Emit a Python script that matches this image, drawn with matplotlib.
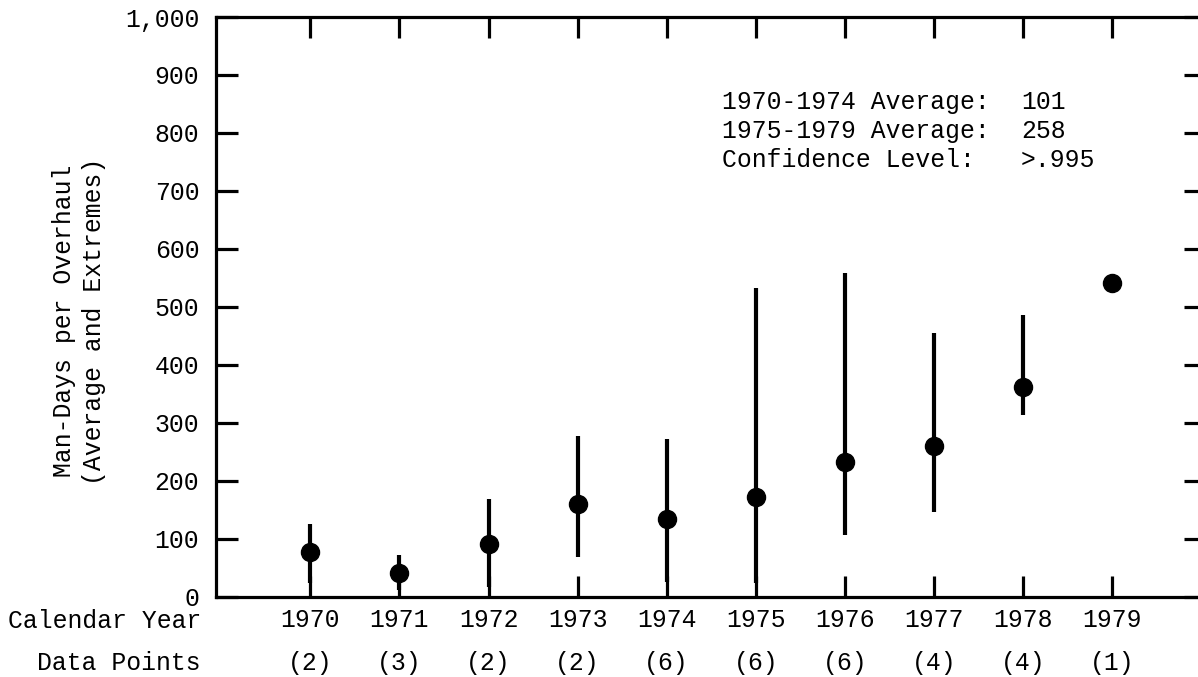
import matplotlib
matplotlib.use("Agg")
import matplotlib.pyplot as plt
from matplotlib import transforms

plt.rcParams['font.family'] = ['Liberation Mono', 'DejaVu Sans Mono']

# Overhaul effort per calendar year: average with low/high extremes
years = [1970, 1971, 1972, 1973, 1974, 1975, 1976, 1977, 1978, 1979]
means = [78, 41, 91, 160, 134, 172, 233, 260, 362, 541]
lows = [25, 12, 17, 69, 26, 24, 107, 147, 314, 541]
highs = [126, 72, 169, 278, 272, 532, 558, 455, 486, 541]
counts = [2, 3, 2, 2, 6, 6, 6, 4, 4, 1]
yticks = [0, 100, 200, 300, 400, 500, 600, 700, 800, 900, 1000]
ytick_labels = ['0', '100', '200', '300', '400', '500', '600', '700', '800', '900', '1,000']
summary_labels = ['1970-1974 Average:', '1975-1979 Average:', 'Confidence Level:']
summary_values = ['101', '258', '>.995']

W, H = 1198, 677
fig = plt.figure(figsize=(W / 100, H / 100), dpi=100)


def fx(px):
    return px / W


def fy(py):
    return 1 - py / H


ax = fig.add_axes([fx(216), fy(597), fx(1201) - fx(216), fy(17) - fy(597)])
ax.set_xlim(1968.94, 1980.0)
ax.set_ylim(0, 1000)

FS = 17.8
LW = 2.3

# extremes and averages (a single observation has no spread to draw)
multi = [i for i, n in enumerate(counts) if n > 1]
ax.vlines([years[i] for i in multi], [lows[i] for i in multi], [highs[i] for i in multi],
          color='black', lw=3.0, zorder=3)
ax.plot(years, means, 'o', color='black', ms=13, zorder=4)

for side in ['left', 'top', 'bottom']:
    ax.spines[side].set_linewidth(LW)
ax.spines['right'].set_visible(False)

ax.set_xticks(years)
ax.set_xticklabels([str(y) for y in years], fontsize=FS)
ax.tick_params(axis='x', which='major', direction='in', top=True, bottom=True,
               length=15, width=LW, pad=8)
ax.set_yticks(yticks)
ax.set_yticklabels(ytick_labels, fontsize=FS)
ax.tick_params(axis='y', which='major', direction='in', left=True, length=16,
               width=LW, pad=12)

# inward ticks along the right edge
sec = ax.secondary_yaxis('right')
sec.set_yticks(yticks)
sec.set_yticklabels([])
sec.tick_params(direction='in', length=12, width=LW)
sec.spines['right'].set_visible(False)

# number of data points under each year
count_tf = transforms.blended_transform_factory(ax.transData, fig.transFigure)
for yr, n in zip(years, counts):
    ax.text(yr, fy(663), f'({n})', transform=count_tf,
            ha='center', va='center', fontsize=FS)

fig.text(fx(201), fy(621), 'Calendar Year', ha='right', va='center', fontsize=FS)
fig.text(fx(201), fy(663), 'Data Points', ha='right', va='center', fontsize=FS)

fig.text(fx(79), fy(321), 'Man-Days per Overhaul\n(Average and Extremes)',
         rotation=90, ha='center', va='center', fontsize=FS, linespacing=1.3,
         multialignment='center')

for i, (lab, val) in enumerate(zip(summary_labels, summary_values)):
    yy = fy(102 + 29 * i)
    fig.text(fx(722), yy, lab, ha='left', va='center', fontsize=FS)
    fig.text(fx(1021), yy, val, ha='left', va='center', fontsize=FS)

fig.savefig('out.png', dpi=100)
